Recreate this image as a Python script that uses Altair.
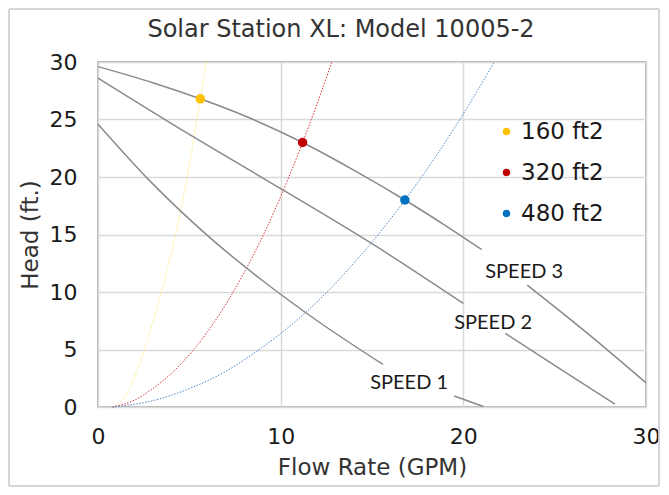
import altair as alt
import pandas as pd

# ---- data ----
systems = ["160 ft2", "320 ft2", "480 ft2"]

# operating points (on SPEED 3 curve)
pt_x = [5.6, 11.2, 16.8]
pt_y = [26.8, 23.0, 18.0]

# pump curves, broken where the labels sit
s3a_x = [0.0, 3.0, 5.6, 8.5, 11.2, 14.0, 16.8, 19.0, 21.0]
s3a_y = [29.6, 28.2, 26.8, 25.0, 23.0, 20.6, 18.0, 15.8, 13.7]
s3b_x = [23.5, 26.8, 30.0]
s3b_y = [10.6, 6.4, 2.1]

s2a_x = [0.0, 5.0, 10.1, 15.0, 20.0]
s2a_y = [28.6, 23.7, 18.9, 14.2, 9.0]
s2b_x = [22.3, 25.4, 28.3]
s2b_y = [6.4, 3.2, 0.25]

s1a_x = [0.0, 3.0, 6.0, 9.0, 12.0, 15.6]
s1a_y = [24.6, 19.4, 14.9, 11.0, 7.5, 3.7]
s1b_x = [19.5, 21.1]
s1b_y = [0.95, 0.05]

# system curves (dotted)
sys160_x = [0.8, 1.5, 2.0, 2.5, 3.0, 3.5, 4.0, 4.5, 5.0, 5.6, 5.95]
sys160_y = [0.0, 1.0, 2.6, 4.8, 7.4, 10.2, 13.3, 16.9, 21.0, 26.8, 30.0]
sys320_x = [0.8, 2.0, 3.0, 4.0, 5.3, 6.5, 7.4, 8.5, 9.3, 10.5, 11.2, 12.0, 12.8]
sys320_y = [0.0, 0.6, 1.6, 2.9, 5.1, 7.7, 10.0, 13.2, 15.8, 20.2, 23.0, 26.4, 30.0]
sys480_x = [0.8, 3.0, 5.0, 7.0, 9.0, 11.0, 12.6, 14.0, 15.5, 16.8, 18.5, 20.0, 21.7]
sys480_y = [0.0, 0.55, 1.6, 3.1, 5.2, 7.7, 10.1, 12.5, 15.3, 18.0, 21.8, 25.5, 30.0]

speed_labels = ["SPEED 3", "SPEED 2", "SPEED 1"]
label_x = [21.2, 19.5, 14.9]
label_y = [11.7, 7.3, 2.1]

# ---- tables ----
def seg(name, xs, ys):
    return pd.DataFrame({"seg": name, "x": xs, "y": ys})

pump_df = pd.concat([
    seg("s3a", s3a_x, s3a_y), seg("s3b", s3b_x, s3b_y),
    seg("s2a", s2a_x, s2a_y), seg("s2b", s2b_x, s2b_y),
    seg("s1a", s1a_x, s1a_y), seg("s1b", s1b_x, s1b_y),
], ignore_index=True)

sys_df = pd.concat([
    pd.DataFrame({"system": systems[0], "x": sys160_x, "y": sys160_y}),
    pd.DataFrame({"system": systems[1], "x": sys320_x, "y": sys320_y}),
    pd.DataFrame({"system": systems[2], "x": sys480_x, "y": sys480_y}),
], ignore_index=True)

pt_df = pd.DataFrame({"system": systems, "x": pt_x, "y": pt_y})
lab_df = pd.DataFrame({"label": speed_labels, "x": label_x, "y": label_y})

FONT = "DejaVu Sans"

xs = alt.Scale(domain=[0, 30], nice=False)
ys = alt.Scale(domain=[0, 30], nice=False)
xax = alt.X("x:Q", scale=xs, title="Flow Rate (GPM)",
            axis=alt.Axis(values=[0, 10, 20, 30], labelFlush=False))
yax = alt.Y("y:Q", scale=ys, title="Head (ft.)",
            axis=alt.Axis(values=[0, 5, 10, 15, 20, 25, 30], labelFlush=False))

frame = alt.Chart(pt_df).mark_rect(fill=None, stroke="#D0D0D0", strokeWidth=1).encode(
    x=alt.value(-89), x2=alt.value(561), y=alt.value(-53), y2=alt.value(424)
)

pumps = alt.Chart(pump_df).mark_line(color="#8A8A8A", strokeWidth=1.5, interpolate="monotone").encode(
    x=xax, y=yax, detail="seg:N"
)

syslines = alt.Chart(sys_df).mark_line(strokeWidth=1, strokeDash=[1.5, 1.5], interpolate="monotone").encode(
    x=xax, y=yax,
    color=alt.Color("system:N", scale=alt.Scale(domain=systems, range=["#FFE97A", "#E0303A", "#4A86C8"]), legend=None),
)

points = alt.Chart(pt_df).mark_circle(size=90, opacity=1).encode(
    x=xax, y=yax,
    color=alt.Color("system:N",
                    scale=alt.Scale(domain=systems, range=["#FFC000", "#C00000", "#0070C0"]),
                    legend=alt.Legend(title=None, orient="none", legendX=397, legendY=58,
                                      labelFontSize=23, labelFont=FONT, labelColor="#1a1a1a",
                                      symbolSize=55, symbolType="circle", rowPadding=17,
                                      labelOffset=3, padding=0, symbolStrokeWidth=0)),
)

labels = alt.Chart(lab_df).mark_text(align="left", baseline="middle", font="Lato", fontSize=20, color="#1a1a1a").encode(
    x=xax, y=yax, text="label:N"
)

chart = alt.layer(frame, syslines, pumps, points, labels).resolve_scale(color="independent").properties(
    width=548, height=345,
    title=alt.TitleParams("Solar Station XL: Model 10005-2", font=FONT, fontSize=24, fontWeight="normal",
                          color="#333333", anchor="middle", dx=-31, offset=-33),
    autosize=alt.AutoSizeParams(type="none"),
    padding={"left": 90, "top": 54, "right": 15, "bottom": 80},
).configure_view(stroke="#A0A0A0", strokeWidth=1.5).configure_axis(
    domain=False, ticks=False, grid=True, gridColor="#D9D9D9", gridWidth=1.5,
    labelFont=FONT, labelFontSize=22, labelColor="#1a1a1a",
    titleFont=FONT, titleFontSize=23, titleFontWeight="normal", titleColor="#333333",
).configure_axisX(labelPadding=19, titlePadding=9).configure_axisY(labelPadding=21, titlePadding=7)

chart.save("out.html", embed_options={"renderer": "svg", "actions": False})
